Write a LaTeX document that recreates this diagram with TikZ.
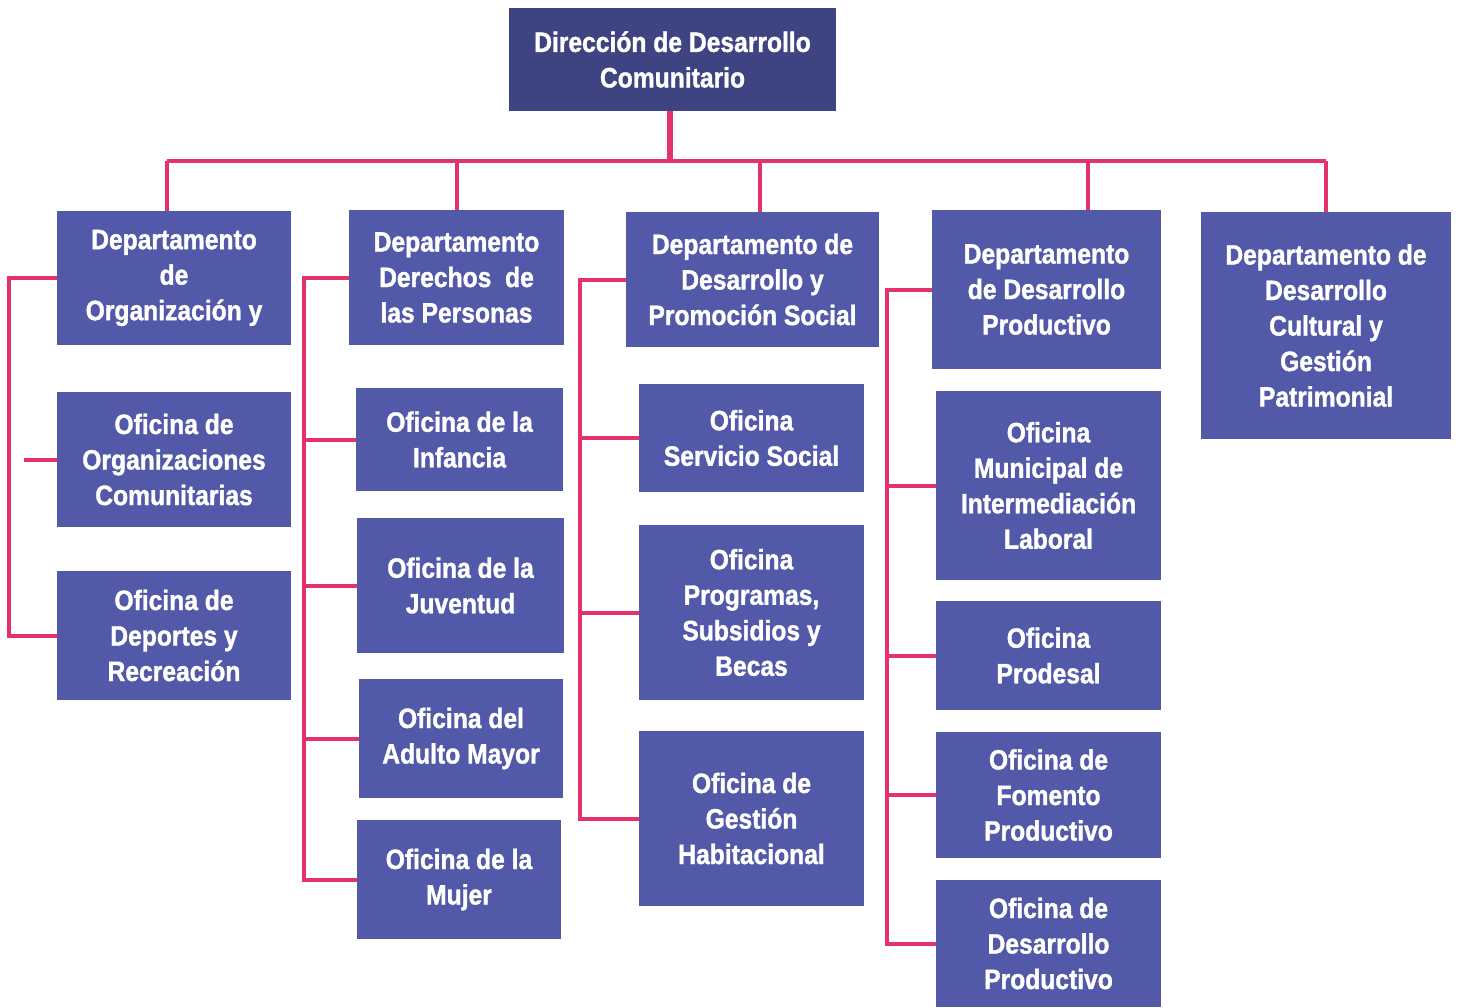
\documentclass[tikz,border=0pt]{standalone}
\usepackage{fontspec}
\newfontfamily\boxfont{Liberation Sans}[FakeStretch=0.88, FakeBold=1.3]
\definecolor{topblue}{HTML}{3E4481}
\definecolor{boxblue}{HTML}{5159A8}
\definecolor{linkred}{HTML}{E3336A}
\begin{document}
\begin{tikzpicture}[x=1pt,y=-1pt,
  box/.style={rectangle, fill=boxblue, inner sep=0pt, align=center, text=white,
    font=\boxfont\bfseries\fontsize{28}{35.5}\selectfont},
  topbox/.style={box, fill=topblue},
  link/.style={draw=linkred, line width=4pt},
  trunk/.style={draw=linkred, line width=6pt}]
\useasboundingbox (0,0) rectangle (1458,1007);
% top
\node[topbox, minimum width=327pt, minimum height=103pt] (top) at (672.5,59.5) {Dirección de Desarrollo\\Comunitario};
% departments
\node[box, minimum width=234pt, minimum height=134pt] (d1) at (174,278) {Departamento\\de\\Organización y};
\node[box, minimum width=215pt, minimum height=135pt] (d2) at (456.5,277.5) {Departamento\\Derechos~ de\\las Personas};
\node[box, minimum width=253pt, minimum height=135pt] (d3) at (752.5,279.5) {Departamento de\\Desarrollo y\\Promoción Social};
\node[box, minimum width=229pt, minimum height=159pt] (d4) at (1046.5,289.5) {Departamento\\de Desarrollo\\Productivo};
\node[box, minimum width=250pt, minimum height=227pt] (d5) at (1326,325.5) {Departamento de\\Desarrollo\\Cultural y\\Gestión\\Patrimonial};
% column 1
\node[box, minimum width=234pt, minimum height=135pt] (o11) at (174,459.5) {Oficina de\\Organizaciones\\Comunitarias};
\node[box, minimum width=234pt, minimum height=129pt] (o12) at (174,635.5) {Oficina de\\Deportes y\\Recreación};
% column 2
\node[box, minimum width=207pt, minimum height=103pt] (o21) at (459.5,439.5) {Oficina de la\\Infancia};
\node[box, minimum width=207pt, minimum height=135pt] (o22) at (460.5,585.5) {Oficina de la\\Juventud};
\node[box, minimum width=204pt, minimum height=119pt] (o23) at (461,738.5) {Oficina del\\Adulto Mayor};
\node[box, minimum width=204pt, minimum height=119pt] (o24) at (459,879.5) {Oficina de la\\Mujer};
% column 3
\node[box, minimum width=225pt, minimum height=108pt] (o31) at (751.5,438) {Oficina\\Servicio Social};
\node[box, minimum width=225pt, minimum height=175pt] (o32) at (751.5,612.5) {Oficina\\Programas,\\Subsidios y\\Becas};
\node[box, minimum width=225pt, minimum height=175pt] (o33) at (751.5,818.5) {Oficina de\\Gestión\\Habitacional};
% column 4
\node[box, minimum width=225pt, minimum height=189pt] (o41) at (1048.5,485.5) {Oficina\\Municipal de\\Intermediación\\Laboral};
\node[box, minimum width=225pt, minimum height=109pt] (o42) at (1048.5,655.5) {Oficina\\Prodesal};
\node[box, minimum width=225pt, minimum height=126pt] (o43) at (1048.5,795) {Oficina de\\Fomento\\Productivo};
\node[box, minimum width=225pt, minimum height=127pt] (o44) at (1048.5,943.5) {Oficina de\\Desarrollo\\Productivo};
% bus coordinates
\coordinate (bus) at (670,161);
\coordinate (b1) at (167,161);
\coordinate (b2) at (457,161);
\coordinate (b3) at (760,161);
\coordinate (b4) at (1088,161);
\coordinate (b5) at (1326,161);
\coordinate (v1) at (9,0);
\coordinate (v2) at (304,0);
\coordinate (v3) at (580,0);
\coordinate (v4) at (887,0);
\coordinate (s1) at (24,460);
% connectors
\draw[trunk] (top.south -| bus) -- (bus);
\draw[link] (b1) -- (b5);
\draw[link] (b1) -- (b1 |- d1.north);
\draw[link] (b2) -- (b2 |- d2.north);
\draw[link] (b3) -- (b3 |- d3.north);
\draw[link] (b4) -- (b4 |- d4.north);
\draw[link] (b5) -- (b5 |- d5.north);
% column 1
\draw[link] (d1.west) -- (d1.west -| v1) |- (o12.west);
\draw[link] (s1) -- (s1 -| o11.west);
% column 2
\draw[link] (d2.west) -- (d2.west -| v2) |- (o24.west);
\draw[link] (o21.west) -- (o21.west -| v2);
\draw[link] (o22.west) -- (o22.west -| v2);
\draw[link] (o23.west) -- (o23.west -| v2);
% column 3
\draw[link] (d3.west) -- (d3.west -| v3) |- (o33.west);
\draw[link] (o31.west) -- (o31.west -| v3);
\draw[link] (o32.west) -- (o32.west -| v3);
% column 4
\draw[link] (d4.west) -- (d4.west -| v4) |- (o44.west);
\draw[link] (o41.west) -- (o41.west -| v4);
\draw[link] (o42.west) -- (o42.west -| v4);
\draw[link] (o43.west) -- (o43.west -| v4);
\end{tikzpicture}
\end{document}
